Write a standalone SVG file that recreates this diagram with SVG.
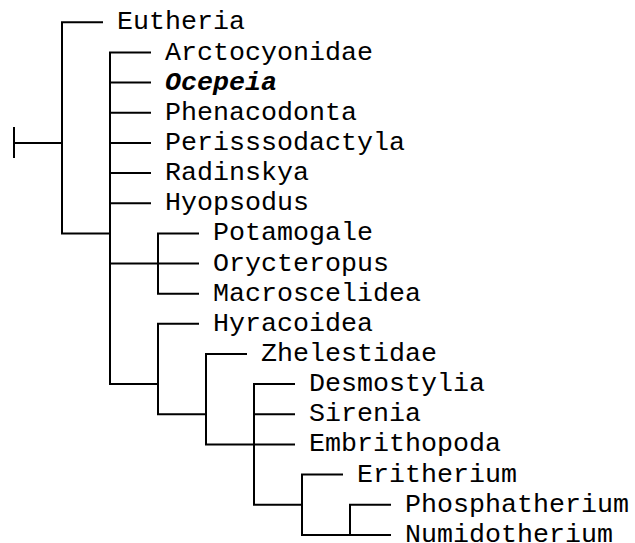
<svg xmlns="http://www.w3.org/2000/svg" width="635" height="543" viewBox="0 0 635 543">
<style>
.t{font-family:"Liberation Mono","Courier New",monospace;font-size:26.67px;fill:#000}
.b{font-weight:bold;font-style:italic}
.c{fill:none;stroke:#000;stroke-width:2;stroke-linecap:square}
</style>
<rect width="635" height="543" fill="#fff"/>
<g id="connectors" class="c">
<path d="M14,128V157M14,142.9H62"/>
<path d="M62,22.3V233.4M62,22.3H102M62,233.4H110"/>
<path d="M110,52.5V384.1M110,52.5H150M110,82.6H150M110,112.8H150M110,142.9H150M110,173.1H150M110,203.2H150M110,263.5H158M110,384.1H158"/>
<path d="M158,233.4V293.7M158,233.4H198M158,263.5H198M158,293.7H198"/>
<path d="M158,323.8V414.3M158,323.8H198M158,414.3H206"/>
<path d="M206,354V444.4M206,354H246M206,444.4H254"/>
<path d="M254,384.1V504.7M254,384.1H294M254,414.3H294M254,444.4H294M254,504.7H302"/>
<path d="M302,474.6V534.9M302,474.6H342M302,534.9H350"/>
<path d="M350,504.7V534.9M350,504.7H390M350,534.9H390"/>
</g>
<g id="eutheria"><text class="t" x="117" y="29.3">Eutheria</text></g>
<g id="arctocyonidae"><text class="t" x="165" y="59.5">Arctocyonidae</text></g>
<g id="ocepeia"><text class="t b" x="165" y="89.6">Ocepeia</text></g>
<g id="phenacodonta"><text class="t" x="165" y="119.8">Phenacodonta</text></g>
<g id="perisssodactyla"><text class="t" x="165" y="149.9">Perisssodactyla</text></g>
<g id="radinskya"><text class="t" x="165" y="180.1">Radinskya</text></g>
<g id="hyopsodus"><text class="t" x="165" y="210.2">Hyopsodus</text></g>
<g id="potamogale"><text class="t" x="213" y="240.4">Potamogale</text></g>
<g id="orycteropus"><text class="t" x="213" y="270.5">Orycteropus</text></g>
<g id="macroscelidea"><text class="t" x="213" y="300.7">Macroscelidea</text></g>
<g id="hyracoidea"><text class="t" x="213" y="330.8">Hyracoidea</text></g>
<g id="zhelestidae"><text class="t" x="261" y="361">Zhelestidae</text></g>
<g id="desmostylia"><text class="t" x="309" y="391.1">Desmostylia</text></g>
<g id="sirenia"><text class="t" x="309" y="421.3">Sirenia</text></g>
<g id="embrithopoda"><text class="t" x="309" y="451.4">Embrithopoda</text></g>
<g id="eritherium"><text class="t" x="357" y="481.6">Eritherium</text></g>
<g id="phosphatherium"><text class="t" x="405" y="511.7">Phosphatherium</text></g>
<g id="numidotherium"><text class="t" x="405" y="541.9">Numidotherium</text></g>
</svg>
